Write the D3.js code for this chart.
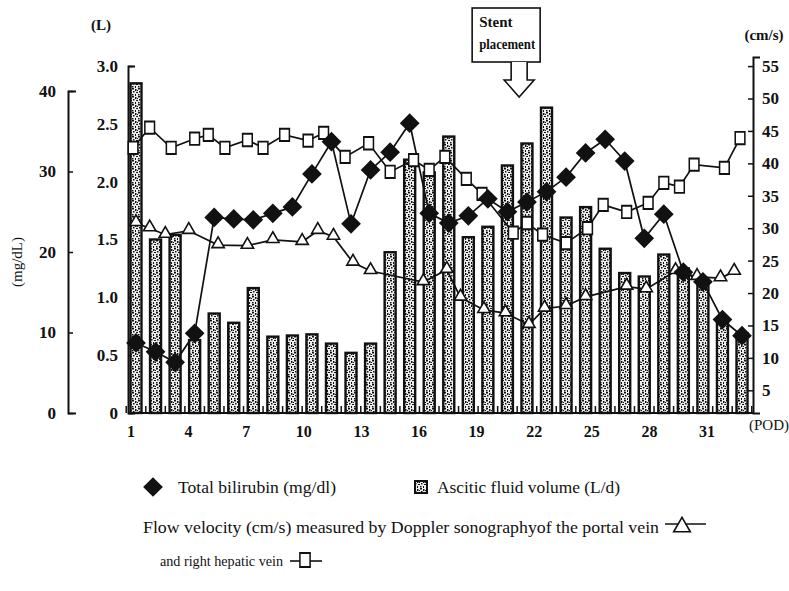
<!DOCTYPE html>
<html>
<head>
<meta charset="utf-8">
<script src="https://cdn.jsdelivr.net/npm/d3@7"></script>
<style>
  body { margin: 0; background: #fff; }
  svg text { font-family: "Liberation Serif", "Times New Roman", serif; fill: #111; }
</style>
</head>
<body>
<div id="chart"></div>
<script>
// postoperative day of each ascites / bilirubin reading
const pod = [1, 2, 3, 4, 5, 6, 7, 8, 9, 10, 11, 12, 13, 14, 15, 16,
  17, 18, 19, 20, 21, 22, 23, 24, 25, 26, 27, 28, 29, 30, 31, 32];
// ascitic fluid volume (L/d)
const ascites = [2.85, 1.50, 1.54, 0.63, 0.86, 0.78, 1.08, 0.66, 0.67, 0.68, 0.60, 0.52, 0.60, 1.39, 2.19, 2.08,
  2.39, 1.52, 1.61, 2.14, 2.33, 2.64, 1.69, 1.78, 1.42, 1.21, 1.18, 1.37, 1.25, 1.15, 0.82, 0.69];
// total bilirubin (mg/dL)
const bilirubin = [8.7, 7.6, 6.3, 9.9, 24.3, 24.1, 24.0, 24.8, 25.6, 29.7, 33.7, 23.5, 30.2, 32.4, 36.0, 24.8,
  23.6, 24.5, 26.6, 25.0, 26.2, 27.5, 29.3, 32.3, 34.0, 31.3, 21.7, 24.7, 17.5, 16.3, 11.6, 9.6];

// Doppler flow velocity (cm/s), portal vein
const portalPod = [1.0, 1.7, 2.5, 3.7, 5.2, 6.7, 8.0, 9.5, 10.3, 11.1, 12.1, 13.0, 15.7, 16.9,
  17.6, 18.8, 19.9, 21.1, 21.9, 23.0, 24.0, 26.1, 27.1, 28.6, 29.7, 30.9, 31.6];
const portalVel = [30.8, 30.0, 29.0, 29.6, 27.4, 27.3, 28.2, 27.9, 29.6, 28.7, 24.7, 23.4, 21.7, 23.6,
  19.3, 17.4, 16.9, 15.1, 17.6, 18.0, 19.4, 21.0, 20.6, 23.4, 22.5, 22.3, 23.3];

// Doppler flow velocity (cm/s), right hepatic vein
const hepaticPod = [0.85, 1.7, 2.8, 4.0, 4.7, 5.55, 6.7, 7.5, 8.6, 9.8, 10.6, 11.7, 12.9, 14.0, 15.2, 16.0,
  16.8, 17.9, 18.7, 20.3, 21.0, 21.8, 23.0, 24.1, 24.9, 26.1, 27.2, 28.0, 28.8, 29.55, 31.1, 31.9];
const hepaticVel = [42.4, 45.5, 42.4, 43.8, 44.4, 42.4, 43.6, 42.4, 44.4, 43.5, 44.7, 41.0, 43.1, 38.7, 40.5, 39.0,
  41.0, 37.6, 35.3, 29.3, 30.8, 29.0, 27.7, 30.0, 33.6, 32.5, 33.9, 37.0, 36.4, 39.8, 39.3, 43.9];

const podTicks = [1, 4, 7, 10, 13, 16, 19, 22, 25, 28, 31];
const litreTicks = [0, 0.5, 1.0, 1.5, 2.0, 2.5, 3.0];
const mgTicks = [0, 10, 20, 30, 40];
const cmTicks = [5, 10, 15, 20, 25, 30, 35, 40, 45, 50, 55];
const stentPod = 20.6;

const width = 789;
const height = 591;
const baseY = 413;

const x = d3.scaleLinear().domain([1, 32]).range([136, 742]);
// the printed day labels sit a little tighter than the bars in the original
const xLabel = d3.scaleLinear().domain([1, 31]).range([131, 707]);
const yL = d3.scaleLinear().domain([0, 3]).range([baseY, 66]);
const yMg = d3.scaleLinear().domain([0, 40]).range([baseY, 91]);
const yCm = d3.scaleLinear().domain([1.5, 56.4]).range([baseY, 57]);

const svg = d3.select('#chart').append('svg')
  .attr('width', width)
  .attr('height', height);

svg.append('rect').attr('width', width).attr('height', height).attr('fill', '#fff');

// speckled fill like the printed bars
const pat = svg.append('defs').append('pattern')
  .attr('id', 'stipple')
  .attr('patternUnits', 'userSpaceOnUse')
  .attr('width', 6).attr('height', 8);
pat.append('rect').attr('width', 6).attr('height', 8).attr('fill', '#eee');
[[0, 0, 2, 1.5], [3, 1, 1.5, 2], [1, 3, 1.5, 1.5], [4, 4, 2, 1], [0, 6, 1.5, 1.5], [3, 6, 1, 2], [5, 2, 1, 1]].forEach(r => {
  pat.append('rect').attr('x', r[0]).attr('y', r[1]).attr('width', r[2]).attr('height', r[3]).attr('fill', '#111');
});

function styleAxis(g, size) {
  g.select('.domain').attr('stroke', '#111').attr('stroke-width', 2);
  g.selectAll('.tick line').attr('stroke', '#111').attr('stroke-width', 1.5);
  g.selectAll('.tick text').attr('font-size', size).attr('fill', '#111')
    .attr('font-weight', 'bold')
    .style('font-family', '"Liberation Serif", serif');
}

// mg/dL axis (far left)
svg.append('g')
  .attr('transform', 'translate(68,0)')
  .call(d3.axisLeft(yMg).tickValues(mgTicks).tickSizeInner(-5).tickSizeOuter(-8).tickPadding(12))
  .call(g => styleAxis(g, 17));

// litre axis
svg.append('g')
  .attr('transform', 'translate(128,0)')
  .call(d3.axisLeft(yL).tickValues(litreTicks)
    .tickFormat(d => d === 0 ? '0' : d3.format('.1f')(d))
    .tickSizeInner(-5).tickSizeOuter(-7).tickPadding(10))
  .call(g => styleAxis(g, 17));

// cm/s axis (right)
svg.append('g')
  .attr('transform', 'translate(753,0)')
  .call(d3.axisRight(yCm).tickValues(cmTicks).tickSizeInner(-5).tickSizeOuter(7).tickPadding(9))
  .call(g => styleAxis(g, 17));

// baseline with little ticks between the days
svg.append('line')
  .attr('x1', 128).attr('x2', 753)
  .attr('y1', baseY).attr('y2', baseY)
  .attr('stroke', '#111').attr('stroke-width', 2);

svg.append('g').selectAll('line')
  .data(pod.map(d => d - 0.5).concat([32.5]))
  .join('line')
  .attr('x1', d => x(d)).attr('x2', d => x(d))
  .attr('y1', baseY).attr('y2', baseY - 7)
  .attr('stroke', '#111').attr('stroke-width', 1.5);

svg.append('g').selectAll('text')
  .data(podTicks)
  .join('text')
  .attr('x', d => xLabel(d))
  .attr('y', 437)
  .attr('text-anchor', 'middle')
  .attr('font-size', 16)
  .attr('font-weight', 'bold')
  .text(d => d);

svg.append('text').attr('x', 749).attr('y', 430).attr('font-size', 15).text('(POD)');
svg.append('text').attr('x', 101).attr('y', 30).attr('text-anchor', 'middle').attr('font-size', 15).attr('font-weight', 'bold').text('(L)');
svg.append('text').attr('x', 764).attr('y', 40).attr('text-anchor', 'middle').attr('font-size', 15).attr('font-weight', 'bold').text('(cm/s)');
svg.append('text')
  .attr('transform', 'translate(22,262) rotate(-90)')
  .attr('text-anchor', 'middle')
  .attr('font-size', 15)
  .text('(mg/dL)');

// ascites bars
svg.append('g').selectAll('rect')
  .data(pod)
  .join('rect')
  .attr('x', d => x(d) - 5.5)
  .attr('width', 11)
  .attr('y', (d, i) => yL(ascites[i]))
  .attr('height', (d, i) => baseY - yL(ascites[i]))
  .attr('fill', 'url(#stipple)')
  .attr('stroke', '#111')
  .attr('stroke-width', 2.4);

const line = d3.line();

const portalPts = portalPod.map((d, i) => [x(d), yCm(portalVel[i])]);
const hepaticPts = hepaticPod.map((d, i) => [x(d), yCm(hepaticVel[i])]);
const biliPts = pod.map((d, i) => [x(d), yMg(bilirubin[i])]);

[portalPts, hepaticPts, biliPts].forEach(pts => {
  svg.append('path')
    .attr('d', line(pts))
    .attr('fill', 'none')
    .attr('stroke', '#111')
    .attr('stroke-width', 1.7);
});

const tri = d3.symbol().type(d3.symbolTriangle).size(66);
const sq = d3.symbol().type(d3.symbolSquare).size(115);
const dia = d3.symbol().type(d3.symbolSquare).size(195);

svg.append('g').selectAll('path')
  .data(portalPts)
  .join('path')
  .attr('d', tri)
  .attr('transform', d => `translate(${d[0]},${d[1] - 1})`)
  .attr('fill', '#fff').attr('stroke', '#111').attr('stroke-width', 1.6);

svg.append('g').selectAll('path')
  .data(hepaticPts)
  .join('path')
  .attr('d', sq)
  .attr('transform', d => `translate(${d[0]},${d[1]}) scale(0.9,1.15)`)
  .attr('fill', '#fff').attr('stroke', '#111').attr('stroke-width', 1.7);

svg.append('g').selectAll('path')
  .data(biliPts)
  .join('path')
  .attr('d', dia)
  .attr('transform', d => `translate(${d[0]},${d[1]}) rotate(45)`)
  .attr('fill', '#111');

// stent placement callout
const ax = x(stentPod);
const stent = svg.append('g');
stent.append('rect')
  .attr('x', ax - 47).attr('y', 8)
  .attr('width', 68).attr('height', 54)
  .attr('fill', '#fff').attr('stroke', '#111').attr('stroke-width', 1.6);
stent.append('text').attr('x', ax - 40).attr('y', 27).attr('font-size', 15).attr('font-weight', 'bold').text('Stent');
stent.append('text').attr('x', ax - 40).attr('y', 49).attr('font-size', 15).attr('font-weight', 'bold')
  .attr('textLength', 56).attr('lengthAdjust', 'spacingAndGlyphs').text('placement');
stent.append('path')
  .attr('d', `M${ax - 8},62V80H${ax - 15}L${ax},97L${ax + 15},80H${ax + 8}V62`)
  .attr('fill', '#fff').attr('stroke', '#111').attr('stroke-width', 1.6);

// legend
function legendText(xp, yp, len, txt, size) {
  legend.append('text')
    .attr('x', xp).attr('y', yp)
    .attr('font-size', size || 17)
    .attr('textLength', len)
    .attr('lengthAdjust', 'spacingAndGlyphs')
    .text(txt);
}

const legend = svg.append('g');
legend.append('path')
  .attr('d', dia)
  .attr('transform', 'translate(153,487) rotate(45)')
  .attr('fill', '#111');
legendText(178, 493, 158, 'Total bilirubin (mg/dl)');

legend.append('rect')
  .attr('x', 415).attr('y', 481).attr('width', 12).attr('height', 12)
  .attr('fill', 'url(#stipple)').attr('stroke', '#111').attr('stroke-width', 2);
legendText(437, 493, 183, 'Ascitic fluid volume (L/d)');

legendText(143, 533, 516, 'Flow velocity (cm/s) measured by Doppler sonographyof the portal vein');
legend.append('line')
  .attr('x1', 665).attr('x2', 706).attr('y1', 524).attr('y2', 524)
  .attr('stroke', '#111').attr('stroke-width', 1.6);
legend.append('path')
  .attr('d', d3.symbol().type(d3.symbolTriangle).size(120))
  .attr('transform', 'translate(682,527)')
  .attr('fill', '#fff').attr('stroke', '#111').attr('stroke-width', 1.6);

legendText(160, 566, 123, 'and right hepatic vein', 15.5);
legend.append('line')
  .attr('x1', 290).attr('x2', 322).attr('y1', 561).attr('y2', 561)
  .attr('stroke', '#111').attr('stroke-width', 1.6);
legend.append('path')
  .attr('d', sq)
  .attr('transform', 'translate(305,560) scale(0.95,1.3)')
  .attr('fill', '#fff').attr('stroke', '#111').attr('stroke-width', 1.6);
</script>
</body>
</html>
